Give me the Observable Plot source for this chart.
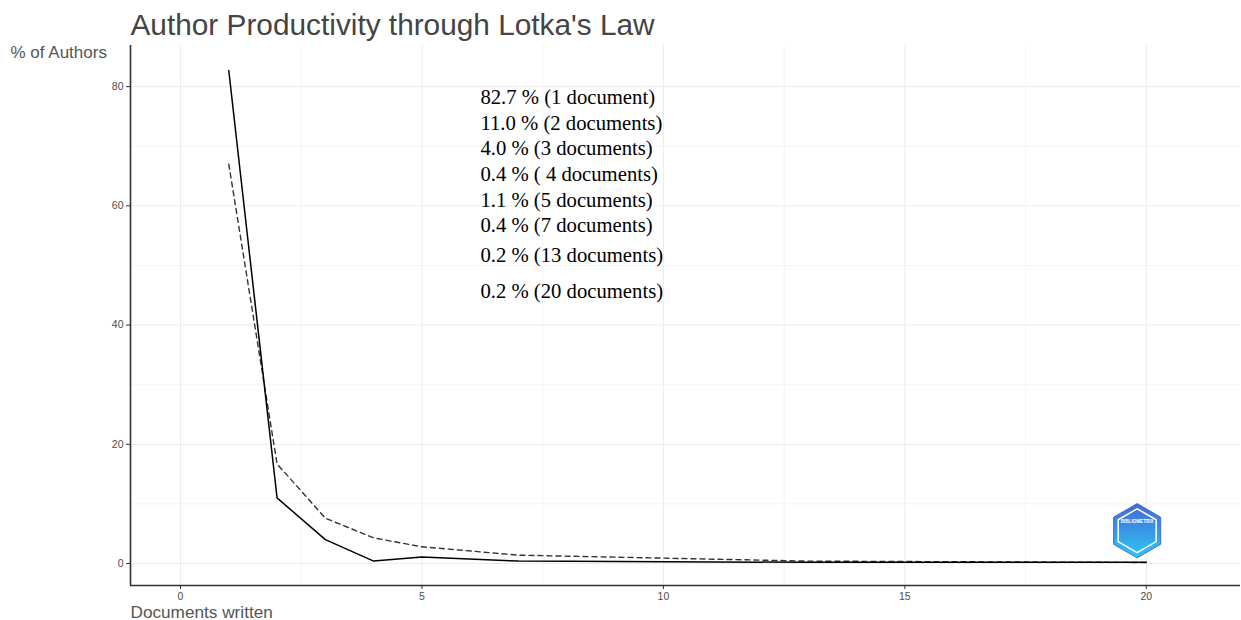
<!DOCTYPE html>
<html>
<head>
<meta charset="utf-8">
<script src="https://cdn.jsdelivr.net/npm/d3@7"></script>
<script src="https://cdn.jsdelivr.net/npm/@observablehq/plot@0.6"></script>
<style>
  html, body { margin: 0; padding: 0; background: #fff; }
</style>
</head>
<body>
<div id="chart"></div>
<script>
// ---- data ----
const docs = [1, 2, 3, 4, 5, 7, 13, 20];
const observed = [82.7, 11.0, 4.0, 0.4, 1.1, 0.4, 0.2, 0.2];
const theoretical = [67.0, 16.7, 7.6, 4.3, 2.8, 1.4, 0.4, 0.17];
const labels = [
  "82.7 % (1 document)",
  "11.0 % (2 documents)",
  "4.0 % (3 documents)",
  "0.4 % ( 4 documents)",
  "1.1 % (5 documents)",
  "0.4 % (7 documents)",
  "0.2 % (13 documents)",
  "0.2 % (20 documents)"
];
const labelY = [78.2, 73.8, 69.6, 65.3, 61.0, 56.7, 51.7, 45.6];
const labelX = 6.21;
const xTicks = [0, 5, 10, 15, 20];
const xMinor = [2.5, 7.5, 12.5, 17.5];
const yTicks = [0, 20, 40, 60, 80];
const yMinor = [10, 30, 50, 70];

const obsData = docs.map((d, i) => ({x: d, y: observed[i]}));
const theoData = docs.map((d, i) => ({x: d, y: theoretical[i]}));
const labelData = labels.map((t, i) => ({x: labelX, y: labelY[i], t}));

const xDom = [-1.035, 21.95];
const yDom = [-3.69, 86.9];

const chart = Plot.plot({
  width: 1241,
  height: 620,
  marginLeft: 130,
  marginRight: 1,
  marginTop: 45,
  marginBottom: 35,
  x: {domain: xDom, axis: null},
  y: {domain: yDom, axis: null},
  style: {fontFamily: "'Liberation Sans', Arial, sans-serif", background: "#fff", overflow: "visible"},
  marks: [
    Plot.gridX(xMinor, {stroke: "#f4f4f4", strokeOpacity: 1, strokeWidth: 1}),
    Plot.gridY(yMinor, {stroke: "#f4f4f4", strokeOpacity: 1, strokeWidth: 1}),
    Plot.gridX(xTicks, {stroke: "#ececec", strokeOpacity: 1, strokeWidth: 1}),
    Plot.gridY(yTicks, {stroke: "#ececec", strokeOpacity: 1, strokeWidth: 1}),
    Plot.line(theoData, {x: "x", y: "y", stroke: "#333", strokeWidth: 1.4, strokeDasharray: "5,4"}),
    Plot.line(obsData, {x: "x", y: "y", stroke: "#000", strokeWidth: 1.5}),
    Plot.text(labelData, {x: "x", y: "y", text: "t", textAnchor: "start", fontSize: 20.7, fill: "#000",
      fontFamily: "'Liberation Serif', 'Times New Roman', serif"}),
    // logo
    Plot.dot([{x: 19.81, y: 5.5}], {x: "x", y: "y", symbol: "hexagon", r: 23.5, fill: "url(#logoGrad)", stroke: "#3c6fd0", strokeWidth: 1}),
    Plot.dot([{x: 19.81, y: 5.5}], {x: "x", y: "y", symbol: "hexagon", r: 19, fill: "none", stroke: "#fff", strokeWidth: 1.5}),
    Plot.text([{x: 19.81, y: 7.0}], {x: "x", y: "y", text: () => "BIBLIOMETRIX", fontSize: 4.6, fontWeight: "bold", fill: "#fff"}),
    Plot.ruleX([xDom[0]], {stroke: "#333", strokeWidth: 1.6}),
    Plot.ruleY([yDom[0]], {stroke: "#333", strokeWidth: 1.6}),
    Plot.axisX(xTicks, {tickSize: 4, tickPadding: 3, fontSize: 10.5, fill: "#4d4d4d", stroke: "#333", label: null}),
    Plot.axisY(yTicks, {tickSize: 4, tickPadding: 3, fontSize: 10.5, fill: "#4d4d4d", stroke: "#333", label: null}),
    Plot.text(["Author Productivity through Lotka's Law"], {frameAnchor: "top-left", dy: -11, textAnchor: "start", lineAnchor: "bottom", fontSize: 29.8, fill: "#444"}),
    Plot.text(["% of Authors"], {frameAnchor: "top-left", dx: -120, dy: 7, textAnchor: "start", lineAnchor: "middle", fontSize: 17, fill: "#555"}),
    Plot.text(["Documents written"], {frameAnchor: "bottom-left", dy: 27, textAnchor: "start", lineAnchor: "middle", fontSize: 17.2, fill: "#555"})
  ]
});

const defs = d3.select(chart).insert("defs", ":first-child");
const g = defs.append("linearGradient").attr("id", "logoGrad").attr("x1", 0).attr("y1", 0).attr("x2", 0).attr("y2", 1);
g.append("stop").attr("offset", "0%").attr("stop-color", "#4466d4");
g.append("stop").attr("offset", "100%").attr("stop-color", "#2ec8f6");

document.getElementById("chart").appendChild(chart);
</script>
</body>
</html>
